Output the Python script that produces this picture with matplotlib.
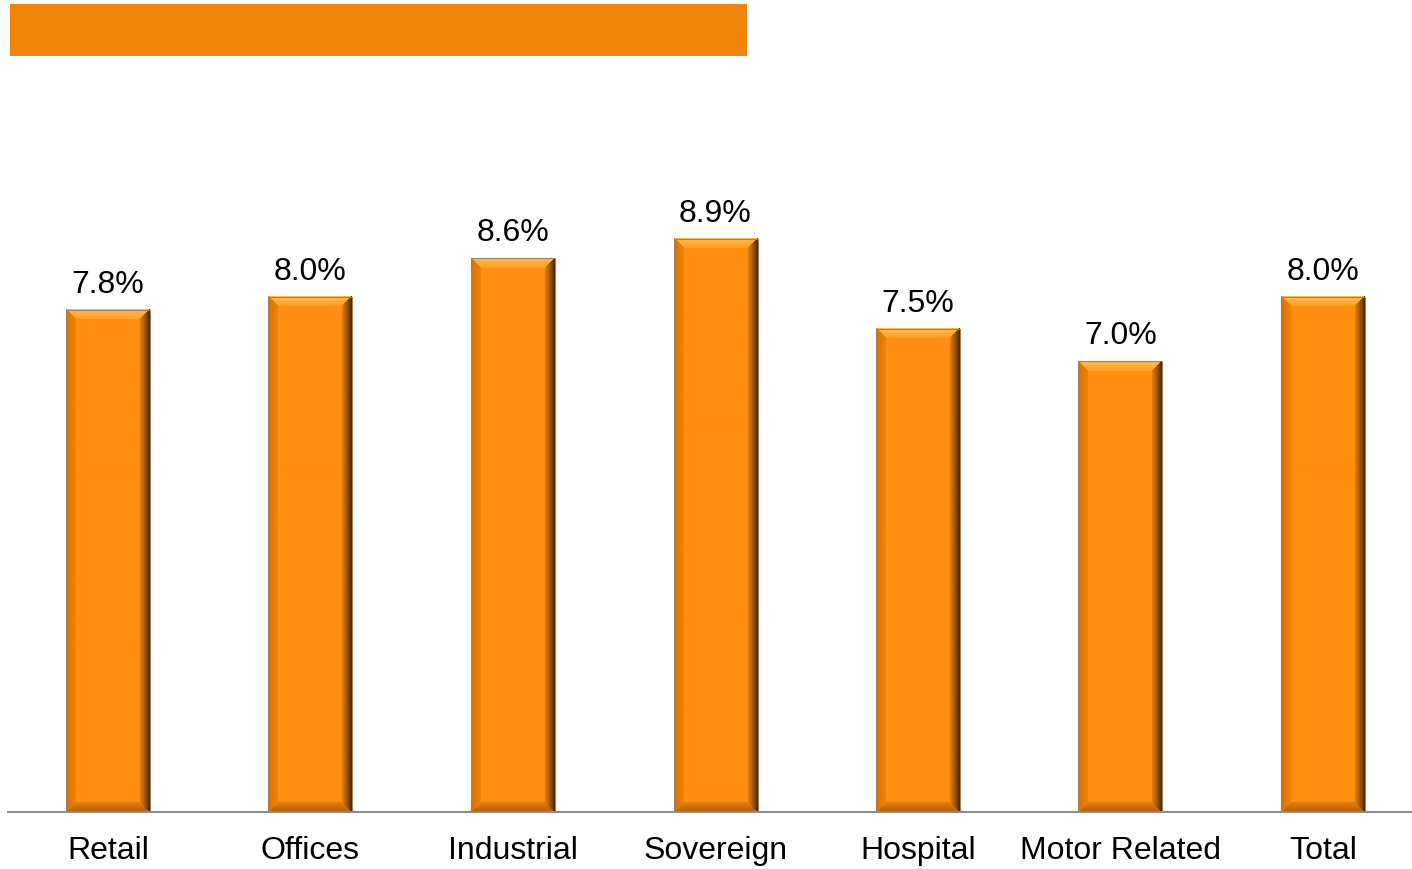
import numpy as np
import matplotlib.pyplot as plt
from matplotlib.patches import Rectangle

plt.rcParams['font.family'] = ['Liberation Sans', 'DejaVu Sans']

categories = ['Retail', 'Offices', 'Industrial', 'Sovereign', 'Hospital', 'Motor Related', 'Total']
yields = [7.8, 8.0, 8.6, 8.9, 7.5, 7.0, 8.0]
labels = ['7.8%', '8.0%', '8.6%', '8.9%', '7.5%', '7.0%', '8.0%']

base = np.array([255, 141, 15]) / 255.0
top_out = np.array([255, 190, 85]) / 255.0
top_in = np.array([255, 160, 40]) / 255.0
left_out = np.array([212, 112, 5]) / 255.0
left_in = np.array([240, 130, 10]) / 255.0
right_out = np.array([70, 38, 0]) / 255.0
right_in = np.array([225, 122, 8]) / 255.0
bot_out = np.array([175, 92, 10]) / 255.0
bot_in = np.array([230, 124, 12]) / 255.0


def bevel_image(w, h, b=10):
    # shaded bar face with bevelled edges, one pixel per cell
    img = np.tile(base, (h, w, 1))
    rr, cc = np.mgrid[0:h, 0:w]
    d_left = cc
    d_right = w - 1 - cc
    d_top = rr
    d_bot = h - 1 - rr
    stack = np.stack([d_left, d_right, d_top, d_bot])
    dmin = stack.min(axis=0)
    which = stack.argmin(axis=0)
    edge = dmin < b
    t = np.clip(dmin / (b - 1), 0, 1)[..., None] ** 0.8
    for k, (c_out, c_in) in enumerate([(left_out, left_in), (right_out, right_in),
                                       (top_out, top_in), (bot_out, bot_in)]):
        m = edge & (which == k)
        img[m] = (c_out * (1 - t) + c_in * t)[m]
    return img


fig = plt.figure(figsize=(14.12, 8.69), dpi=100)
ax = fig.add_axes([8 / 1412, 57 / 869, 1404 / 1412, 712 / 869])

ymax = 712 / 64.4
x0 = -100 / 202.5
ax.set_xlim(x0, x0 + 1404 / 202.5)
ax.set_ylim(0, ymax)

bar_w = 84 / 202.5
px_per_unit = 64.4
for i, v in enumerate(yields):
    h_px = int(round(v * px_per_unit))
    img = bevel_image(84, h_px)
    ax.imshow(img, extent=(i - bar_w / 2, i + bar_w / 2, 0, v),
              aspect='auto', interpolation='bilinear', zorder=2)
    ax.add_patch(Rectangle((i - bar_w / 2, 0), bar_w, v, fill=False,
                           edgecolor='#a08060', linewidth=0.8, zorder=3))
    ax.annotate(labels[i], (i, v), xytext=(0, 7), textcoords='offset points',
                ha='center', va='bottom', fontsize=23, color='black')

ax.set_xticks(range(len(categories)))
ax.set_xticklabels(categories, fontsize=23)
ax.tick_params(axis='x', length=0, pad=17)
ax.set_yticks([])
for s in ['top', 'right', 'left']:
    ax.spines[s].set_visible(False)
ax.spines['bottom'].set_color('#8c8c8c')
ax.spines['bottom'].set_linewidth(1.5)
ax.spines['bottom'].set_zorder(4)

# orange header band
fig.patches.append(Rectangle((10 / 1412, 1 - 56 / 869), 737 / 1412, 52 / 869,
                             transform=fig.transFigure, facecolor='#F0840A',
                             edgecolor='none'))

fig.savefig('out.png', dpi=100)
